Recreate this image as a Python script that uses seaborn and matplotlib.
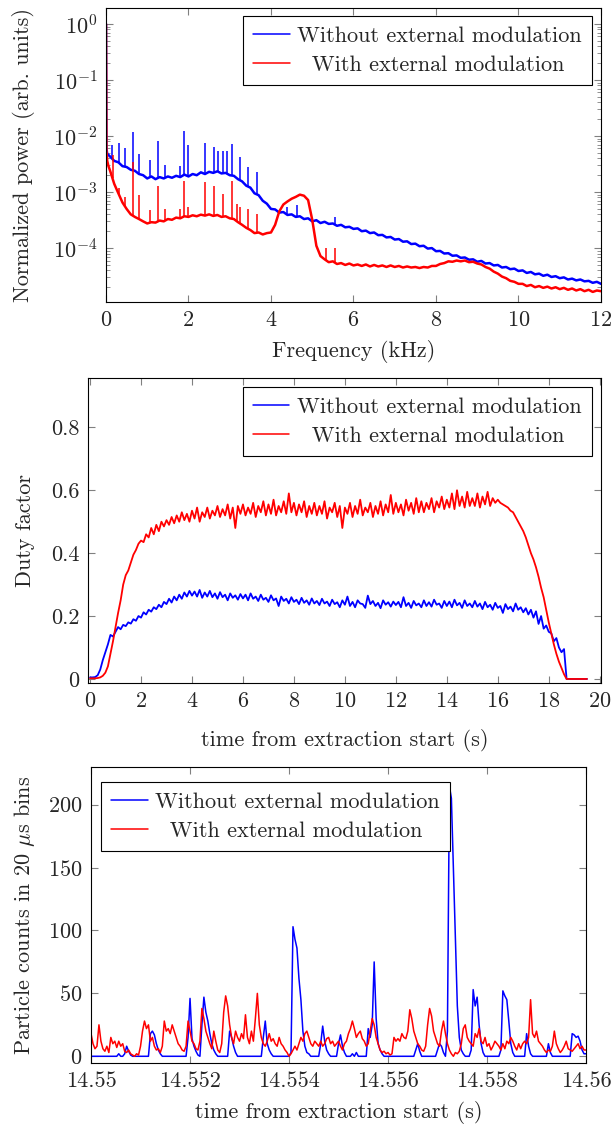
import numpy as np
import matplotlib
matplotlib.use('Agg')
import matplotlib.pyplot as plt
import seaborn as sns
from matplotlib.ticker import LogLocator, FuncFormatter, NullFormatter, FixedLocator

# ---------------- data: panel 1 (power spectrum) ----------------
freq_low = [0.0, 0.01, 0.03, 0.06]
power_blue_low = [1.0, 6.0e-3, 4.8e-3, 4.6e-3]
power_red_low = [1.0, 5.5e-3, 3.6e-3, 2.9e-3]
# values at 0.1, 0.2, ..., 12.0 kHz
power_blue = [
    4.3e-3, 3.6e-3, 3.4e-3, 2.9e-3, 2.8e-3, 2.5e-3, 2.4e-3, 2.1e-3, 2.0e-3, 1.75e-3,
    1.9e-3, 1.7e-3, 1.85e-3, 1.75e-3, 1.9e-3, 1.8e-3, 1.95e-3, 1.85e-3, 2.05e-3, 1.9e-3,
    2.1e-3, 2.0e-3, 2.25e-3, 2.1e-3, 2.3e-3, 2.2e-3, 2.35e-3, 2.15e-3, 2.2e-3, 2.0e-3,
    1.95e-3, 1.7e-3, 1.55e-3, 1.3e-3, 1.2e-3, 9.5e-4, 8.8e-4, 7.0e-4, 6.2e-4, 5.0e-4,
    4.9e-4, 4.3e-4, 4.4e-4, 3.9e-4, 4.0e-4, 3.6e-4, 3.7e-4, 3.3e-4, 3.4e-4, 3.0e-4,
    3.15e-4, 2.8e-4, 2.95e-4, 2.7e-4, 2.75e-4, 2.5e-4, 2.6e-4, 2.35e-4, 2.4e-4, 2.2e-4,
    2.25e-4, 2.0e-4, 2.05e-4, 1.85e-4, 1.9e-4, 1.7e-4, 1.72e-4, 1.55e-4, 1.58e-4, 1.42e-4,
    1.45e-4, 1.3e-4, 1.32e-4, 1.18e-4, 1.2e-4, 1.08e-4, 1.1e-4, 9.8e-5, 1.0e-4, 8.8e-5,
    8.9e-5, 8.0e-5, 8.1e-5, 7.3e-5, 7.4e-5, 6.7e-5, 6.8e-5, 6.2e-5, 6.3e-5, 5.7e-5,
    5.9e-5, 5.3e-5, 5.4e-5, 4.9e-5, 5.0e-5, 4.5e-5, 4.6e-5, 4.2e-5, 4.3e-5, 3.9e-5,
    4.0e-5, 3.6e-5, 3.75e-5, 3.4e-5, 3.5e-5, 3.2e-5, 3.35e-5, 3.05e-5, 3.15e-5, 2.9e-5,
    3.0e-5, 2.75e-5, 2.85e-5, 2.65e-5, 2.75e-5, 2.55e-5, 2.6e-5, 2.4e-5, 2.5e-5, 2.3e-5,
]
power_red = [
    2.4e-3, 1.4e-3, 9.5e-4, 6.5e-4, 5.0e-4, 4.0e-4, 3.6e-4, 3.3e-4, 3.0e-4, 2.75e-4,
    2.9e-4, 2.85e-4, 3.1e-4, 3.0e-4, 3.3e-4, 3.2e-4, 3.5e-4, 3.4e-4, 3.7e-4, 3.6e-4,
    3.85e-4, 3.7e-4, 3.95e-4, 3.8e-4, 4.0e-4, 3.75e-4, 3.9e-4, 3.6e-4, 3.7e-4, 3.4e-4,
    3.3e-4, 2.9e-4, 2.6e-4, 2.3e-4, 2.1e-4, 1.85e-4, 1.9e-4, 1.75e-4, 1.85e-4, 1.9e-4,
    2.6e-4, 4.5e-4, 6.0e-4, 6.8e-4, 7.6e-4, 8.2e-4, 9.0e-4, 8.6e-4, 7.2e-4, 3.2e-4,
    1.1e-4, 7.2e-5, 6.3e-5, 5.6e-5, 5.8e-5, 5.2e-5, 5.4e-5, 5.0e-5, 5.3e-5, 4.9e-5,
    5.1e-5, 4.8e-5, 5.1e-5, 4.7e-5, 5.0e-5, 4.7e-5, 4.9e-5, 4.6e-5, 4.9e-5, 4.6e-5,
    4.8e-5, 4.5e-5, 4.7e-5, 4.5e-5, 4.6e-5, 4.4e-5, 4.6e-5, 4.5e-5, 4.8e-5, 4.8e-5,
    5.2e-5, 5.4e-5, 5.8e-5, 5.7e-5, 6.0e-5, 5.8e-5, 6.0e-5, 5.6e-5, 5.7e-5, 5.3e-5,
    5.1e-5, 4.6e-5, 4.3e-5, 3.8e-5, 3.5e-5, 3.1e-5, 2.9e-5, 2.6e-5, 2.5e-5, 2.3e-5,
    2.3e-5, 2.1e-5, 2.2e-5, 2.0e-5, 2.1e-5, 1.95e-5, 2.05e-5, 1.9e-5, 2.0e-5, 1.85e-5,
    1.95e-5, 1.8e-5, 1.9e-5, 1.75e-5, 1.85e-5, 1.7e-5, 1.8e-5, 1.65e-5, 1.75e-5, 1.7e-5,
]
spike_f_blue = [0.15, 0.31, 0.47, 0.65, 0.81, 1.06, 1.26, 1.44, 1.80, 1.89, 1.99, 2.39,
                2.62, 2.71, 2.83, 2.93, 3.05, 3.26, 3.45, 3.66, 4.39, 4.62, 5.55]
spike_p_blue = [7.0e-3, 7.5e-3, 6.0e-3, 1.2e-2, 4.8e-3, 3.7e-3, 8.0e-3, 3.0e-3, 2.9e-3, 1.25e-2,
                7.0e-3, 7.5e-3, 6.4e-3, 5.5e-3, 5.4e-3, 5.4e-3, 7.2e-3, 4.2e-3, 2.8e-3, 2.3e-3,
                5.4e-4, 5.8e-4, 3.6e-4]
spike_f_red = [0.16, 0.31, 0.47, 0.65, 0.81, 1.06, 1.26, 1.44, 1.80, 1.89, 1.99, 2.39,
               2.62, 2.83, 3.05, 3.18, 3.26, 3.45, 3.66, 5.34, 5.55]
spike_p_red = [4.5e-3, 1.2e-3, 8.1e-4, 3.4e-3, 8.7e-4, 4.7e-4, 1.3e-3, 5.0e-4, 5.0e-4, 1.6e-3,
               5.4e-4, 1.5e-3, 1.3e-3, 9.3e-4, 1.6e-3, 6.0e-4, 5.4e-4, 5.0e-4, 4.0e-4,
               1.0e-4, 1.0e-4]

# ---------------- data: panel 2 (duty factor, 0.1 s steps) ----------------
duty_blue = [
    0.005, 0.005, 0.006, 0.012, 0.03, 0.06, 0.085, 0.11, 0.14, 0.135,
    0.15, 0.165, 0.158, 0.172, 0.168, 0.18, 0.176, 0.19, 0.185, 0.2,
    0.195, 0.212, 0.205, 0.22, 0.214, 0.228, 0.222, 0.236, 0.228, 0.245,
    0.238, 0.255, 0.243, 0.262, 0.25, 0.268, 0.255, 0.275, 0.262, 0.28,
    0.265, 0.278, 0.262, 0.283, 0.258, 0.275, 0.262, 0.28, 0.26, 0.272,
    0.255, 0.276, 0.26, 0.268, 0.25, 0.272, 0.258, 0.266, 0.252, 0.27,
    0.256, 0.268, 0.25, 0.272, 0.255, 0.262, 0.248, 0.268, 0.252, 0.258,
    0.245, 0.266, 0.25, 0.256, 0.232, 0.262, 0.248, 0.255, 0.24, 0.26,
    0.245, 0.252, 0.238, 0.258, 0.242, 0.25, 0.236, 0.256, 0.24, 0.248,
    0.235, 0.255, 0.24, 0.246, 0.232, 0.252, 0.238, 0.244, 0.228, 0.25,
    0.236, 0.262, 0.232, 0.245, 0.228, 0.25, 0.24, 0.238, 0.226, 0.265,
    0.238, 0.248, 0.232, 0.242, 0.225, 0.25, 0.236, 0.244, 0.23, 0.246,
    0.235, 0.245, 0.228, 0.26, 0.232, 0.242, 0.226, 0.248, 0.234, 0.24,
    0.228, 0.25, 0.232, 0.244, 0.23, 0.252, 0.236, 0.24, 0.226, 0.248,
    0.232, 0.246, 0.228, 0.252, 0.234, 0.242, 0.226, 0.25, 0.232, 0.24,
    0.228, 0.248, 0.23, 0.24, 0.222, 0.245, 0.228, 0.236, 0.22, 0.242,
    0.226, 0.232, 0.21, 0.238, 0.222, 0.23, 0.215, 0.24, 0.22, 0.228,
    0.212, 0.225, 0.205, 0.22, 0.195, 0.215, 0.175, 0.2, 0.16, 0.17,
    0.15, 0.145, 0.12, 0.13, 0.1, 0.085, 0.095, 0.0, 0.0, 0.0,
    0.0, 0.0, 0.0, 0.0, 0.0, 0.0,
]
duty_red = [
    0.002, 0.002, 0.002, 0.003, 0.005, 0.01, 0.02, 0.04, 0.08, 0.12,
    0.165, 0.21, 0.25, 0.30, 0.33, 0.345, 0.37, 0.395, 0.41, 0.43,
    0.44, 0.435, 0.46, 0.45, 0.48, 0.46, 0.49, 0.47, 0.5, 0.485,
    0.505, 0.49, 0.515, 0.495, 0.52, 0.5, 0.53, 0.505, 0.525, 0.5,
    0.535, 0.51, 0.545, 0.5, 0.53, 0.515, 0.545, 0.51, 0.535, 0.52,
    0.55, 0.515, 0.54, 0.52, 0.555, 0.51, 0.545, 0.48, 0.55, 0.525,
    0.555, 0.52, 0.545, 0.525, 0.56, 0.515, 0.55, 0.53, 0.565, 0.52,
    0.555, 0.525, 0.57, 0.52, 0.55, 0.53, 0.565, 0.525, 0.59, 0.53,
    0.56, 0.52, 0.555, 0.53, 0.565, 0.515, 0.55, 0.525, 0.56, 0.52,
    0.55, 0.525, 0.565, 0.51, 0.545, 0.53, 0.56, 0.515, 0.55, 0.48,
    0.545, 0.525, 0.56, 0.515, 0.55, 0.525, 0.57, 0.52, 0.545, 0.53,
    0.56, 0.515, 0.55, 0.525, 0.565, 0.52, 0.555, 0.53, 0.585, 0.525,
    0.56, 0.53, 0.555, 0.52, 0.57, 0.535, 0.56, 0.525, 0.575, 0.53,
    0.565, 0.53, 0.56, 0.54, 0.575, 0.53, 0.565, 0.545, 0.58, 0.54,
    0.57, 0.545, 0.59, 0.54, 0.6, 0.55, 0.58, 0.545, 0.595, 0.55,
    0.575, 0.55, 0.59, 0.545, 0.58, 0.555, 0.595, 0.55, 0.575, 0.56,
    0.57, 0.56, 0.555, 0.55, 0.545, 0.535, 0.53, 0.515, 0.5, 0.485,
    0.47, 0.45, 0.425, 0.4, 0.38, 0.355, 0.325, 0.29, 0.26, 0.22,
    0.18, 0.145, 0.11, 0.08, 0.055, 0.035, 0.015, 0.0, 0.0, 0.0,
    0.0, 0.0, 0.0, 0.0, 0.0, 0.0,
]

# ---------------- data: panel 3 (counts, 40 us steps from 14.55 s) ----------------
counts_blue = [
    0, 0, 0, 0, 0, 0, 0, 0, 0, 0,
    0, 0, 0, 0, 2, 0, 0, 2, 8, 4,
    1, 0, 0, 0, 0, 0, 0, 0, 0, 0,
    18, 20, 17, 10, 5, 2, 0, 0, 0, 0,
    0, 0, 0, 0, 0, 0, 0, 0, 0, 15,
    46, 14, 8, 4, 1, 0, 25, 47, 35, 28,
    18, 10, 5, 2, 0, 0, 0, 0, 0, 0,
    20, 15, 8, 3, 0, 0, 0, 0, 0, 0,
    0, 0, 0, 0, 0, 0, 0, 15, 28, 10,
    5, 2, 0, 0, 0, 0, 0, 0, 0, 0,
    0, 3, 103, 93, 86, 62, 45, 20, 8, 3,
    2, 0, 0, 0, 0, 0, 10, 24, 12, 5,
    2, 0, 0, 0, 0, 10, 17, 8, 3, 0,
    0, 0, 2, 0, 3, 0, 0, 0, 0, 0,
    22, 15, 25, 75, 30, 10, 5, 2, 0, 0,
    0, 0, 0, 0, 0, 0, 0, 0, 0, 0,
    0, 0, 0, 0, 5, 10, 4, 0, 0, 0,
    0, 0, 0, 0, 0, 5, 10, 8, 3, 0,
    20, 215, 205, 150, 95, 40, 15, 5, 2, 0,
    0, 0, 5, 53, 40, 47, 25, 10, 3, 0,
    0, 0, 0, 0, 0, 0, 0, 5, 52, 48,
    45, 28, 10, 3, 0, 0, 0, 0, 0, 0,
    18, 8, 2, 0, 0, 0, 0, 0, 0, 0,
    0, 10, 3, 0, 0, 0, 0, 0, 0, 0,
    0, 0, 0, 18, 17, 15, 16, 12, 5, 2,
    2,
]
counts_red = [
    18, 10, 6, 8, 25, 12, 6, 4, 8, 3,
    15, 10, 12, 7, 12, 8, 10, 4, 3, 5,
    2, 1, 0, 2, 1, 8, 20, 28, 22, 25,
    12, 15, 8, 5, 6, 3, 8, 28, 20, 22,
    18, 25, 20, 15, 10, 8, 5, 4, 8, 28,
    20, 12, 10, 6, 5, 12, 38, 30, 20, 15,
    10, 6, 20, 12, 5, 3, 10, 35, 48, 40,
    25, 15, 10, 20, 15, 12, 18, 14, 33, 15,
    10, 20, 12, 30, 50, 25, 15, 10, 8, 12,
    18, 12, 14, 10, 8, 15, 10, 8, 5, 3,
    0, 2, 5, 8, 5, 10, 15, 12, 18, 20,
    15, 10, 8, 12, 10, 8, 12, 8, 10, 14,
    15, 10, 12, 8, 10, 12, 8, 5, 10, 12,
    18, 22, 28, 22, 15, 18, 20, 14, 12, 8,
    10, 20, 30, 25, 15, 10, 5, 3, 4, 2,
    3, 1, 2, 15, 12, 14, 12, 18, 15, 14,
    20, 37, 30, 20, 15, 10, 8, 5, 4, 8,
    25, 38, 32, 20, 15, 10, 8, 20, 28, 18,
    10, 5, 2, 0, 3, 2, 4, 10, 22, 25,
    15, 12, 10, 8, 18, 15, 22, 12, 10, 15,
    8, 10, 5, 8, 12, 10, 8, 5, 10, 6,
    12, 10, 15, 12, 8, 5, 10, 6, 10, 12,
    10, 15, 45, 18, 15, 20, 12, 10, 8, 5,
    3, 5, 4, 8, 20, 10, 6, 3, 5, 8,
    12, 6, 5, 4, 6, 8, 10, 6, 8, 5,
    5,
]

label_blue = 'Without external modulation'
label_red = '  With external modulation'
BLUE = '#0000ff'
RED = '#ff0000'

# ---------------- style ----------------
sns.set_theme(style='ticks')
plt.rcParams['font.family'] = ['cmr10', 'DejaVu Serif']
plt.rcParams['mathtext.fontset'] = 'cm'
plt.rcParams['axes.formatter.use_mathtext'] = True
plt.rcParams['axes.unicode_minus'] = False
FS = 16

fig = plt.figure(figsize=(6.13, 11.29), dpi=100)
ax1 = fig.add_axes([0.1729, 0.7325, 0.8075, 0.2604])
ax2 = fig.add_axes([0.1436, 0.3950, 0.8368, 0.2702])
ax3 = fig.add_axes([0.1485, 0.0585, 0.8075, 0.2622])


def style_axes(ax):
    for s in ax.spines.values():
        s.set_visible(True)
        s.set_color('black')
        s.set_linewidth(0.8)
    ax.tick_params(which='both', direction='in', top=True, right=True,
                   color='#808080', labelsize=FS, pad=6)
    ax.tick_params(which='major', length=5, width=0.8)
    ax.tick_params(which='minor', length=3, width=0.6)


def make_legend(ax, loc, anchor):
    handles, labels = ax.get_legend_handles_labels()
    leg = ax.legend(handles, labels, loc=loc, bbox_to_anchor=anchor, borderaxespad=0,
                    fontsize=FS, frameon=True, fancybox=False, framealpha=1,
                    edgecolor='black', handlelength=1.65, handletextpad=0.35,
                    labelspacing=0.45, borderpad=0.45)
    leg.get_frame().set_linewidth(0.8)
    return leg


# ---------------- panel 1 ----------------
ax1.set_yscale('log')
f_all = np.concatenate([freq_low, np.arange(1, 121) / 10.0])
pb = np.concatenate([power_blue_low, power_blue])
pr = np.concatenate([power_red_low, power_red])
sns.lineplot(x=f_all, y=pb, ax=ax1, color=BLUE, linewidth=1.8, label=label_blue, sort=False)
ax1.vlines(spike_f_blue, np.interp(spike_f_blue, f_all, pb), spike_p_blue, color=BLUE, linewidth=1.1)
sns.lineplot(x=f_all, y=pr, ax=ax1, color=RED, linewidth=1.8, label=label_red, sort=False)
ax1.vlines(spike_f_red, np.interp(spike_f_red, f_all, pr), spike_p_red, color=RED, linewidth=1.1)
ax1.set_xlim(0, 12)
ax1.set_ylim(1.09e-5, 1.93)
ax1.set_xticks([0, 2, 4, 6, 8, 10, 12])
ax1.yaxis.set_major_locator(FixedLocator([1e-4, 1e-3, 1e-2, 1e-1, 1e0]))
ax1.yaxis.set_minor_locator(LogLocator(base=10, subs=np.arange(2, 10), numticks=20))
ax1.yaxis.set_minor_formatter(NullFormatter())
ax1.set_xlabel('Frequency (kHz)', fontsize=FS, labelpad=7.5)
ax1.set_ylabel('Normalized power (arb. units)', fontsize=FS, labelpad=13)
style_axes(ax1)
make_legend(ax1, 'upper right', (0.982, 0.973))
for ln in ax1.get_legend().get_lines():
    ln.set_linewidth(1.1)

# ---------------- panel 2 ----------------
t_duty = np.arange(len(duty_blue)) / 10.0
sns.lineplot(x=t_duty, y=duty_blue, ax=ax2, color=BLUE, linewidth=1.3, label=label_blue)
sns.lineplot(x=t_duty, y=duty_red, ax=ax2, color=RED, linewidth=1.3, label=label_red)
ax2.set_xlim(-0.08, 20.05)
ax2.set_ylim(-0.013, 0.957)
ax2.set_xticks(np.arange(0, 21, 2))
ax2.set_yticks([0, 0.2, 0.4, 0.6, 0.8])
ax2.yaxis.set_major_formatter(FuncFormatter(lambda v, p: f'{v:g}'))
ax2.set_xlabel('time from extraction start (s)', fontsize=FS, labelpad=13)
ax2.set_ylabel('Duty factor', fontsize=FS, labelpad=12)
style_axes(ax2)
make_legend(ax2, 'upper right', (0.982, 0.970))
for ln in ax2.get_legend().get_lines():
    ln.set_linewidth(1.1)

# ---------------- panel 3 ----------------
t_cnt = 14.55 + np.arange(len(counts_blue)) * 4e-5
sns.lineplot(x=t_cnt, y=counts_blue, ax=ax3, color=BLUE, linewidth=1.1, label=label_blue)
sns.lineplot(x=t_cnt, y=counts_red, ax=ax3, color=RED, linewidth=1.1, label=label_red)
ax3.set_xlim(14.55, 14.56)
ax3.set_ylim(-5.3, 230)
ax3.set_xticks([14.55, 14.552, 14.554, 14.556, 14.558, 14.56])
ax3.xaxis.set_major_formatter(FuncFormatter(lambda v, p: f'{v:g}'))
ax3.set_yticks([0, 50, 100, 150, 200])
ax3.set_xlabel('time from extraction start (s)', fontsize=FS, labelpad=7)
ax3.set_ylabel(r'Particle counts in 20 $\mu$s bins', fontsize=FS, labelpad=8)
style_axes(ax3)
make_legend(ax3, 'upper left', (0.02, 0.949))

fig.savefig('out.png', dpi=100)
